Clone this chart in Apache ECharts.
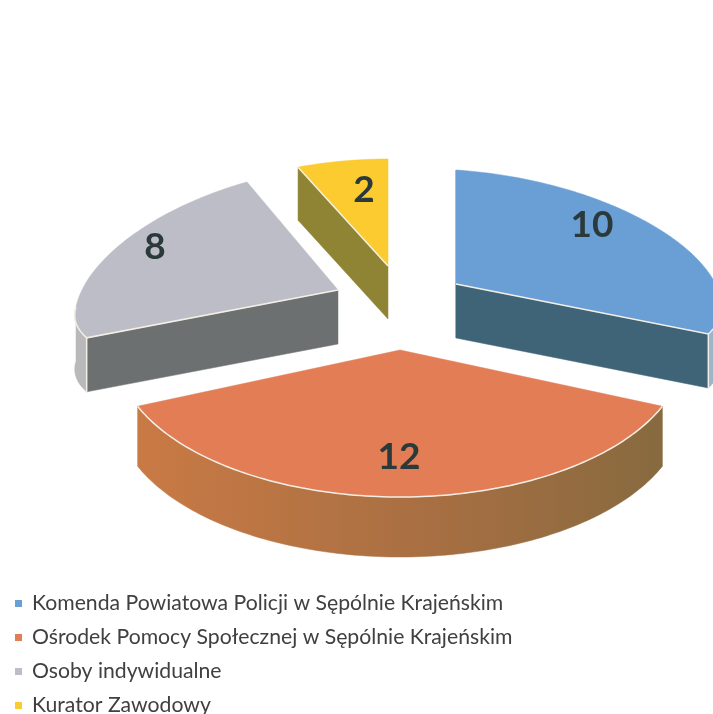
<!DOCTYPE html>
<html>
<head>
<meta charset="utf-8">
<title>Wykres</title>
<style>
  html, body { margin: 0; padding: 0; background: #fff; overflow: hidden; }
  #chart { width: 713px; height: 714px; }
</style>
<script src="https://cdn.jsdelivr.net/npm/echarts@6/dist/echarts.min.js"></script>
</head>
<body>
<div id="chart"></div>
<script>
// Data
const categories = [
  'Komenda Powiatowa Policji w Sępólnie Krajeńskim',
  'Ośrodek Pomocy Społecznej w Sępólnie Krajeńskim',
  'Osoby indywidualne',
  'Kurator Zawodowy'
];
const values = [10, 12, 8, 2];

// Colours: top surface, cut face, outer wall
const topColors  = ['#6a9fd6', '#e27d56', '#bcbdc6', '#fbcb2f'];
const cutColors  = ['#3f6478', '#b5703f', '#6c7070', '#8f8434'];
const wallColors = ['#9fb4c6', '#bd7543', '#b9b9bc', '#8f8434'];

// Layout of each exploded slice: apex, radii (far/near differ because of perspective),
// sh = rim sag at the sides, depth of the extrusion, label position
const layout = [
  { cx: 456, cy: 284, rx: 265, rFar: 114, rNear: 92,  sh: 16, p: 0.08, depth: 54, lx: 592, ly: 225 },
  { cx: 400, cy: 350, rx: 284, rFar: 147, rNear: 147, sh: 0,  p: 0,    depth: 60, lx: 399, ly: 457 },
  { cx: 338, cy: 290, rx: 262, rFar: 124, rNear: 84,  sh: 17, p: 0.1,  depth: 54, lx: 155, ly: 247 },
  { cx: 388, cy: 266, rx: 259, rFar: 107, rNear: 107, sh: 0,  p: 0.1,  depth: 53, lx: 364, ly: 190 }
];

const total = values.reduce(function (a, b) { return a + b; }, 0);

// Point on the slice rim, angle measured clockwise from the top
function rimPoint(l, a, dy) {
  const s = Math.sin(a), c = Math.cos(a);
  return [
    l.cx + l.rx * s * (1 - l.p * c),
    l.cy - (c > 0 ? l.rFar : l.rNear) * c + l.sh * Math.abs(s) + (dy || 0)
  ];
}

function arcPoints(l, a0, a1, dy) {
  const pts = [];
  const n = Math.max(2, Math.ceil(Math.abs(a1 - a0) / 0.02));
  for (let i = 0; i <= n; i++) pts.push(rimPoint(l, a0 + (a1 - a0) * i / n, dy));
  return pts;
}

function renderSlice(idx) {
  return function (params, api) {
    const l = layout[idx];
    let before = 0;
    for (let i = 0; i < idx; i++) before += values[i];
    const a0 = before / total * Math.PI * 2;
    const a1 = (before + api.value(0)) / total * Math.PI * 2;
    const d = l.depth;
    const apex = [l.cx, l.cy];
    const apexLow = [l.cx, l.cy + d];
    const children = [];

    function poly(points, fill) {
      children.push({
        type: 'polygon',
        shape: { points: points },
        style: { fill: fill, stroke: fill, lineWidth: 0.5 }
      });
    }

    function pale(points) {
      children.push({
        type: 'polyline',
        shape: { points: points },
        style: { fill: 'none', stroke: '#f4efe6', lineWidth: 1.5 }
      });
    }

    // outer wall: only the part of the rim facing the viewer
    const w0 = Math.max(a0, Math.PI / 2);
    const w1 = Math.min(a1, Math.PI * 1.5);
    if (w1 > w0) {
      const fill = idx === 1
        ? new echarts.graphic.LinearGradient(0, 0, 1, 0, [
            { offset: 0, color: '#c97a45' },
            { offset: 0.55, color: '#a86f42' },
            { offset: 1, color: '#876a3f' }
          ])
        : wallColors[idx];
      poly(arcPoints(l, w0, w1, 0).concat(arcPoints(l, w1, w0, d)), fill);
    }

    // radial cut faces turned to the viewer
    if (idx === 0) {
      poly([rimPoint(l, a0), rimPoint(l, a0, d), apexLow, apex], '#6f7f88');
      poly([apex, rimPoint(l, a1), rimPoint(l, a1, d), apexLow], cutColors[idx]);
    } else if (idx === 2 || idx === 3) {
      poly([apex, rimPoint(l, a0), rimPoint(l, a0, d), apexLow], cutColors[idx]);
    }

    // top surface
    poly([apex].concat(arcPoints(l, a0, a1, 0)), topColors[idx]);

    // pale highlight along the front edges
    if (idx === 1) {
      pale(arcPoints(l, a0, a1, 0));
    } else if (idx === 0) {
      pale(arcPoints(l, Math.PI / 2, a1, 0).concat([apex]));
      pale([rimPoint(l, a1), rimPoint(l, a1, d)]);
    } else if (idx === 2) {
      pale(arcPoints(l, Math.PI * 1.5, a0, 0).concat([apex]));
      pale([rimPoint(l, a0), rimPoint(l, a0, d)]);
    } else {
      pale([apex, rimPoint(l, a0)]);
    }

    // value label
    children.push({
      type: 'text',
      style: {
        x: l.lx, y: l.ly,
        text: String(api.value(0)),
        fill: '#2a3a3a',
        font: 'bold 37px Lato',
        align: 'center',
        verticalAlign: 'middle'
      }
    });

    return { type: 'group', children: children };
  };
}

const chart = echarts.init(document.getElementById('chart'), null, { renderer: 'canvas' });

chart.setOption({
  backgroundColor: '#ffffff',
  animation: false,
  legend: {
    orient: 'vertical',
    left: 15,
    top: 593,
    height: 200,
    padding: 0,
    itemWidth: 7,
    itemHeight: 7,
    itemGap: 13,
    icon: 'rect',
    textStyle: { fontFamily: 'Lato', fontSize: 21.2, color: '#404040', padding: [0, 0, 0, 5] },
    data: categories
  },
  series: categories.map(function (name, i) {
    return {
      type: 'custom',
      name: name,
      coordinateSystem: 'none',
      z: i === 1 ? 3 : 2,
      itemStyle: { color: topColors[i] },
      renderItem: renderSlice(i),
      data: [[values[i]]]
    };
  })
});
</script>
</body>
</html>
